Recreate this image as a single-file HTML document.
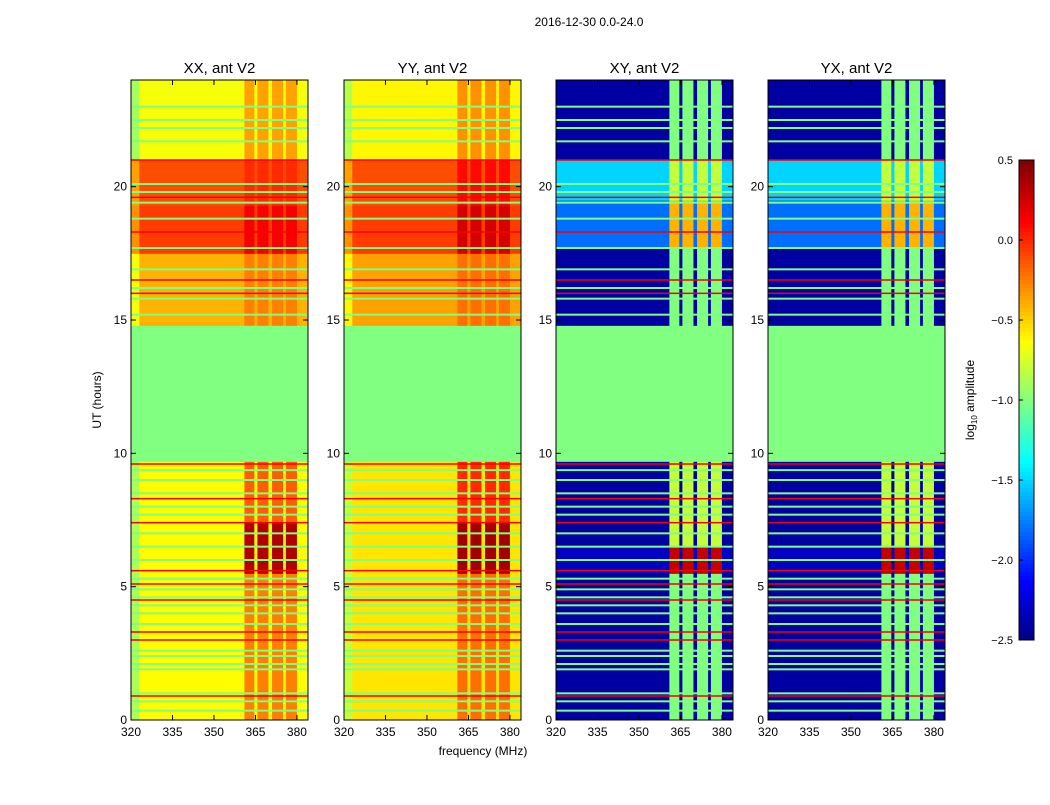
<!DOCTYPE html>
<html><head><meta charset="utf-8"><style>
body{margin:0;background:#fff;font-family:"Liberation Sans",sans-serif}
svg text{font-family:"Liberation Sans",sans-serif}
</style></head><body>
<svg id="fig" width="1050" height="800">
<text x="589" y="26" font-size="12" text-anchor="middle">2016-12-30 0.0-24.0</text>
<text x="483" y="755" font-size="12" text-anchor="middle">frequency (MHz)</text>
<text transform="translate(101,400) rotate(-90)" font-size="12" text-anchor="middle">UT (hours)</text>
<text transform="translate(974,400) rotate(-90)" font-size="12" text-anchor="middle">log<tspan font-size="8" dy="3">10</tspan><tspan dy="-3"> amplitude</tspan></text>
</svg>
<script>
// ---- data ----
const panelTitles = ["XX, ant V2","YY, ant V2","XY, ant V2","YX, ant V2"];
const freqEdges = [320,323,361,364.6,365.7,369.7,371,375,376,380,384];
const segTypes = ["E","L","H","G","H","G","H","G","H","L"];
const xTicks = [320,335,350,365,380];
const yTicks = [0,5,10,15,20];
const cbTicks = [0.5,0,-0.5,-1,-1.5,-2,-2.5];
// bands: [t0,t1,lowLevel,highLevel]
const bandsXX = [[0,5.5,-0.62,-0.25],[5.5,7.4,-0.62,0.35],[7.4,9.7,-0.62,-0.15],[9.7,14.8,-1,-1],[14.8,17.5,-0.4,-0.25],[17.5,19.3,-0.05,0.15],[19.3,21,-0.1,0],[21,24,-0.65,-0.35]];
const bandsYY = [[0,5.5,-0.55,-0.2],[5.5,7.4,-0.55,0.4],[7.4,9.7,-0.55,0],[9.7,14.8,-1,-1],[14.8,17.5,-0.35,-0.2],[17.5,19.3,-0.05,0.25],[19.3,21,-0.1,0.1],[21,24,-0.6,-0.3]];
const bandsXY = [[0,5.5,-2.4,-1.0],[5.5,6.5,-2.3,0.3],[6.5,9.7,-2.4,-0.8],[9.7,14.8,-1,-1],[14.8,17.7,-2.4,-1.0],[17.7,19.5,-1.8,-0.4],[19.5,21,-1.5,-0.8],[21,24,-2.4,-1.0]];
const bandsYX = [[0,5.5,-2.4,-1.0],[5.5,6.5,-2.3,0.3],[6.5,9.7,-2.4,-0.8],[9.7,14.8,-1,-1],[14.8,17.7,-2.4,-1.0],[17.7,19.5,-1.8,-0.4],[19.5,21,-1.5,-0.8],[21,24,-2.4,-1.0]];
const greenLines = [0.35,0.7,1.0,1.9,2.1,2.4,2.6,3.6,4.0,4.3,4.6,4.9,5.3,6.0,6.5,7.0,7.7,8.0,8.5,9.0,9.37,15.2,15.8,16.2,16.9,17.7,18.8,19.4,19.8,20.1,21.7,22.2,22.5,23.0];
const redLines = [0.9,3.0,3.3,4.5,5.1,5.6,7.4,8.3,9.6,16.0,16.5,18.3,19.6,21.0];
const allBands=[bandsXX,bandsYY,bandsXY,bandsYX];
// ---- layout ----
const NS="http://www.w3.org/2000/svg";
const svg=document.getElementById('fig');
const panelX=[131,344,556,768], PW=177, Y0=80, Y1=720;
function yS(t){return Y1-(t/24)*(Y1-Y0);}
function xS(px,f){return px+(f-320)/(384-320)*PW;}
function jet(v){let t=(v+2.5)/3;t=Math.max(0,Math.min(1,t));
 const c=x=>Math.round(255*Math.max(0,Math.min(1,1.5-Math.abs(4*t-x))));
 return `rgb(${c(3)},${c(2)},${c(1)})`;}
function el(tag,attrs){const e=document.createElementNS(NS,tag);for(const k in attrs)e.setAttribute(k,attrs[k]);svg.appendChild(e);return e;}
allBands.forEach((bands,p)=>{
 const px=panelX[p], cross=p>=2;
 bands.forEach(b=>{
  for(let s=0;s<segTypes.length;s++){
   const ty=segTypes[s];let v;
   if(ty==="H")v=b[3];else if(ty==="E")v=cross?b[2]:b[2]-0.25;else v=b[2];
   if(b[2]===-1&&b[3]===-1)v=-1;
   const r=el('rect',{x:xS(px,freqEdges[s]),y:yS(b[1]),width:xS(px,freqEdges[s+1])-xS(px,freqEdges[s])+0.5,height:yS(b[0])-yS(b[1])+0.5,fill:jet(v)});
   
   
  }
 });
 greenLines.forEach(t=>{if(t>9.7&&t<14.8)return;const l=el('rect',{x:px,y:yS(t)-1,width:PW,height:2,fill:jet(-1)});
  
  });
 redLines.forEach(t=>{const l=el('rect',{x:px,y:yS(t)-0.75,width:PW,height:1.5,fill:jet(0.15)});
  
  });
 const fr=el('rect',{x:px,y:Y0,width:PW,height:Y1-Y0,fill:'none',stroke:'#000','stroke-width':1});
 
 
 const tt=el('text',{x:px+PW/2,y:73,'font-size':15,'text-anchor':'middle'});tt.textContent=panelTitles[p];
 
 
 xTicks.forEach(f=>{const x=xS(px,f);el('line',{x1:x,x2:x,y1:Y1,y2:Y1-5,stroke:'#000'});el('line',{x1:x,x2:x,y1:Y0,y2:Y0+5,stroke:'#000'});
  const t=el('text',{x:x,y:Y1+16,'font-size':12,'text-anchor':'middle'});t.textContent=f;
  
  });
 yTicks.forEach(h=>{const y=yS(h);el('line',{x1:px,x2:px+5,y1:y,y2:y,stroke:'#000'});el('line',{x1:px+PW,x2:px+PW-5,y1:y,y2:y,stroke:'#000'});
  const t=el('text',{x:px-4,y:y+4,'font-size':12,'text-anchor':'end'});t.textContent=h;
  
  });
});
// colorbar
const CB={x:1019,w:15,y0:160,y1:640};
for(let i=0;i<120;i++){const v=0.5-3*(i/120);const r=el('rect',{x:CB.x,y:CB.y0+i*4,width:CB.w,height:4.5,fill:jet(v)});
 
 }
const cbf=el('rect',{x:CB.x,y:CB.y0,width:CB.w,height:CB.y1-CB.y0,fill:'none',stroke:'#000'});


cbTicks.forEach(v=>{const y=CB.y0+(0.5-v)/3*(CB.y1-CB.y0);el('line',{x1:CB.x,x2:CB.x+4,y1:y,y2:y,stroke:'#000'});
 const t=el('text',{x:1013,y:y+4,'font-size':11,'text-anchor':'end'});t.textContent=(v===0?"0.0":v.toFixed(1).replace('-','\u2212'));
 
 });
</script>
</body></html>
